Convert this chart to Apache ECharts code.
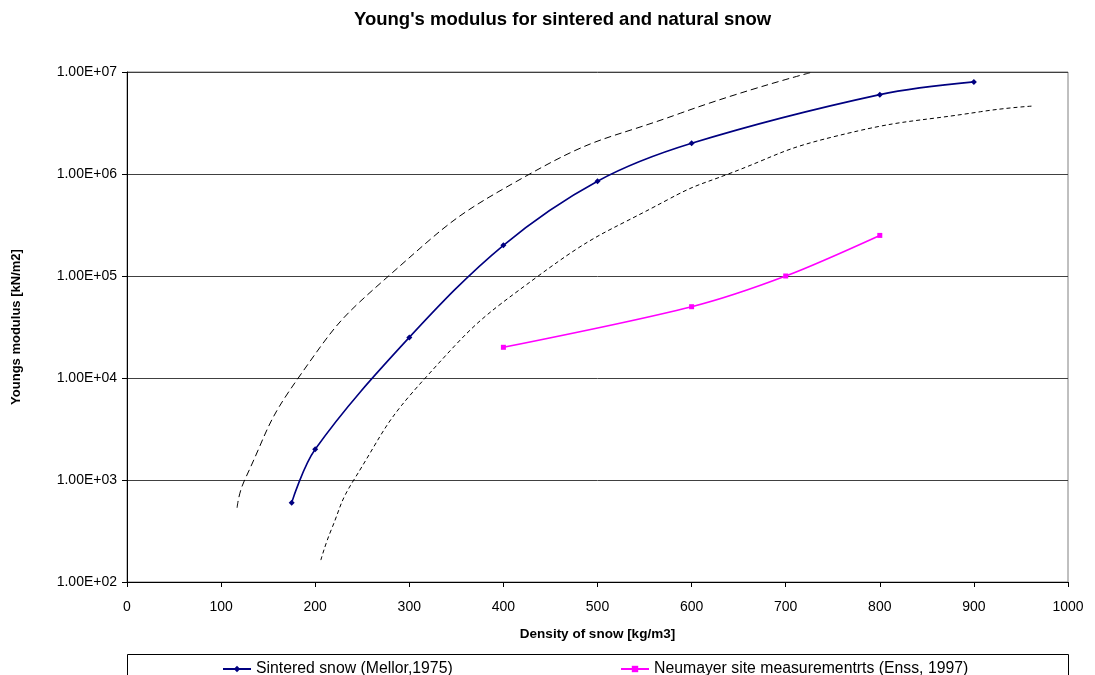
<!DOCTYPE html>
<html>
<head>
<meta charset="utf-8">
<script src="https://cdn.jsdelivr.net/npm/echarts@6/dist/echarts.min.js"></script>
<style>
  html, body { margin: 0; padding: 0; background: #fff; }
  #chart { width: 1095px; height: 675px; }
</style>
</head>
<body>
<div id="chart"></div>
<script>
// Sintered snow (Mellor, 1975): density [kg/m3] vs Young's modulus [kN/m2]
const sinteredDensity = [175, 200, 300, 400, 500, 600, 800, 900];
const sinteredModulus = [600, 2000, 25000, 200000, 850000, 2000000, 6000000, 8000000];

// Neumayer site measurements (Enss, 1997)
const neumayerDensity = [400, 600, 700, 800];
const neumayerModulus = [20000, 50000, 100000, 250000];

// Upper envelope (long dashes)
const upperDensity = [117, 125, 182, 278, 428, 588, 726];
const upperModulus = [534, 1000, 10000, 100000, 1000000, 3940000, 9840000];

// Lower envelope (short dashes)
const lowerDensity = [206, 217, 241, 317, 437, 574, 639, 751, 907, 963];
const lowerModulus = [164, 324, 1000, 10000, 100000, 556000, 1000000, 2320000, 4080000, 4640000];

// Axis settings
const xMin = 0, xMax = 1000, xStep = 100;
const yMin = 100, yMax = 10000000;

const titleText = "Young's modulus for sintered and natural snow";
const xTitle = 'Density of snow [kg/m3]';
const yTitle = 'Youngs modulus [kN/m2]';
const sinteredName = 'Sintered snow (Mellor,1975)';
const neumayerName = 'Neumayer site measurementrts (Enss, 1997)';

const pairs = (xs, ys) => xs.map((x, i) => [x, ys[i]]);

function sci(v) {
  const e = Math.floor(Math.log10(v) + 1e-9);
  const m = v / Math.pow(10, e);
  const sign = e < 0 ? '-' : '+';
  return m.toFixed(2) + 'E' + sign + String(Math.abs(e)).padStart(2, '0');
}

const font = '"Liberation Sans", Arial, sans-serif';
const chart = echarts.init(document.getElementById('chart'), null, { renderer: 'canvas' });

const legendText = { fontFamily: font, fontSize: 15.8, color: '#000' };

chart.setOption({
  backgroundColor: '#ffffff',
  animation: false,
  title: {
    text: titleText,
    left: 349,
    top: 5,
    textStyle: { fontFamily: font, fontSize: 18.5, fontWeight: 'bold', color: '#000' }
  },
  grid: {
    left: 127, right: 27, top: 72, bottom: 93,
    show: true, borderColor: '#808080', borderWidth: 1
  },
  xAxis: {
    type: 'value',
    min: xMin, max: xMax, interval: xStep,
    name: xTitle,
    nameLocation: 'middle',
    nameGap: 45,
    nameTextStyle: { fontFamily: font, fontSize: 13.5, fontWeight: 'bold', color: '#000' },
    axisLine: { show: true, onZero: false, lineStyle: { color: '#000', width: 1 } },
    axisTick: { show: true, inside: false, length: 5, lineStyle: { color: '#000' } },
    axisLabel: { fontFamily: font, fontSize: 14, color: '#000', margin: 18, formatter: v => String(v) },
    splitLine: { show: false }
  },
  yAxis: {
    type: 'log',
    logBase: 10,
    min: yMin, max: yMax,
    name: yTitle,
    nameLocation: 'middle',
    nameGap: 104,
    nameRotate: 90,
    nameTextStyle: { fontFamily: font, fontSize: 13, fontWeight: 'bold', color: '#000' },
    axisLine: { show: true, lineStyle: { color: '#000', width: 1 } },
    axisTick: { show: true, inside: false, length: 5, lineStyle: { color: '#000' } },
    axisLabel: { fontFamily: font, fontSize: 14, color: '#000', margin: 10, formatter: sci },
    splitLine: { show: true, lineStyle: { color: '#404040', width: 1 } },
    minorTick: { show: false }
  },
  legend: [
    {
      left: 217, top: 656,
      itemWidth: 28, itemHeight: 8, itemGap: 4,
      data: [sinteredName],
      textStyle: legendText
    },
    {
      left: 615, top: 656,
      itemWidth: 28, itemHeight: 8, itemGap: 4,
      data: [neumayerName],
      textStyle: legendText
    }
  ],
  graphic: [{
    type: 'rect',
    shape: { x: 127.5, y: 654.5, width: 941, height: 40 },
    style: { fill: 'none', stroke: '#000', lineWidth: 1 },
    silent: true,
    z: -1
  }],
  series: [
    {
      name: 'upper',
      type: 'line',
      data: pairs(upperDensity, upperModulus),
      smooth: 0.5,
      showSymbol: false,
      symbol: 'none',
      lineStyle: { color: '#000', width: 1, type: [7, 4] },
      silent: true,
      z: 2
    },
    {
      name: 'lower',
      type: 'line',
      data: pairs(lowerDensity, lowerModulus),
      smooth: 0.5,
      showSymbol: false,
      symbol: 'none',
      lineStyle: { color: '#000', width: 1, type: [4, 3] },
      silent: true,
      z: 2
    },
    {
      name: sinteredName,
      type: 'line',
      data: pairs(sinteredDensity, sinteredModulus),
      smooth: 0.35,
      symbol: 'diamond',
      symbolSize: 6,
      itemStyle: { color: '#000080' },
      lineStyle: { color: '#000080', width: 1.6 },
      z: 3
    },
    {
      name: neumayerName,
      type: 'line',
      data: pairs(neumayerDensity, neumayerModulus),
      smooth: 0.3,
      symbol: 'rect',
      symbolSize: 5,
      itemStyle: { color: '#ff00ff' },
      lineStyle: { color: '#ff00ff', width: 1.6 },
      z: 3
    }
  ]
});
</script>
</body>
</html>
